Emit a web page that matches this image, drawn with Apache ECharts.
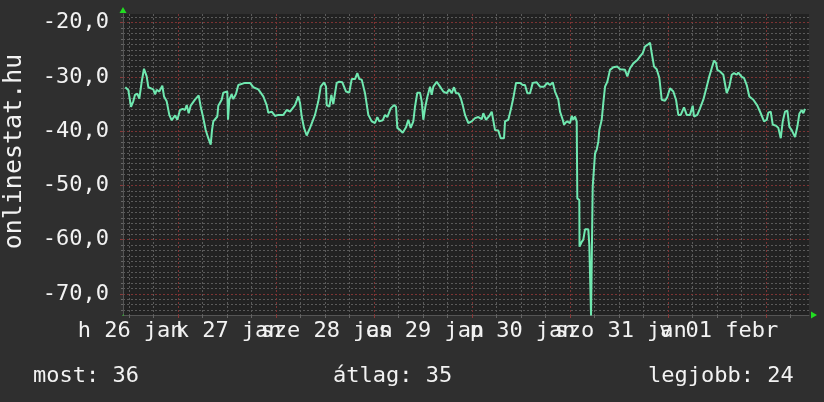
<!DOCTYPE html>
<html>
<head>
<meta charset="utf-8">
<script src="https://cdn.jsdelivr.net/npm/echarts@6/dist/echarts.min.js"></script>
<style>
html,body{margin:0;padding:0;background:#2f2f2f;}
#c{width:824px;height:402px;}
</style>
</head>
<body>
<div id="c"></div>
<script>
// time in hours since Monday 26 Jan 00:00
const hours = [11.06,11.80,12.46,13.02,13.44,14.0,14.49,15.08,15.64,16.06,16.30,16.70,17.92,18.34,18.75,19.39,20.13,20.54,21.20,21.84,22.43,23.24,23.80,24.46,25.12,25.68,26.10,26.59,27.08,28.13,29.04,29.53,30.17,30.75,31.39,31.98,32.30,32.62,33.60,33.84,34.67,35.06,36.04,36.22,36.53,37.12,37.51,38.18,38.74,40.38,41.60,42.41,43.64,44.86,45.69,46.09,46.92,47.73,48.53,49.76,50.59,51.40,52.62,53.43,53.85,54.27,54.83,55.49,56.30,57.52,58.33,58.92,59.73,60.22,60.39,61.03,61.52,62.0,62.84,63.47,64.21,65.12,65.92,66.51,67.32,67.88,68.37,68.96,69.77,70.58,71.41,72.22,72.78,73.27,74.10,74.67,75.23,76.06,76.87,77.36,77.68,78.34,79.0,79.81,80.37,80.96,81.60,82.01,82.58,83.24,83.65,84.05,84.54,85.03,85.69,86.10,86.50,87.33,88.14,88.94,89.78,90.41,91.0,91.56,92.05,92.62,93.21,93.70,94.26,95.07,95.90,96.71,97.52,98.35,98.74,99.40,100.21,100.80,101.19,101.61,102.41,103.0,103.81,104.06,104.86,105.45,106.09,106.75,107.73,108.39,108.95,109.52,110.18,110.84,111.82,112.63,113.61,114.42,115.08,115.74,116.30,117.11,117.53,118.19,118.51,119.17,119.98,120.39,120.78,121.20,121.61,121.76,122.25,122.30,122.84,123.23,123.65,124.45,124.70,125.04,125.12,125.44,125.53,125.85,126.10,126.51,126.91,127.15,127.74,128.13,128.55,129.11,129.77,130.58,131.56,132.22,133.44,134.01,134.67,135.48,136.46,137.12,137.78,138.34,138.91,139.57,139.98,140.55,141.21,141.85,142.43,143.24,143.80,144.46,145.27,145.93,146.50,147.09,147.89,148.55,149.36,150.02,150.34,151.15,151.81,152.62,153.45,154.09,154.68,155.24,155.73,156.05,156.71,157.52,158.35,158.99,159.58,160.14,160.80,161.19,162.03,162.59,163.25,163.89,164.87,165.85,166.68,167.49,168.15,168.54,169.13,169.62,170.43,170.99,171.58,172.07,172.63,173.20,173.69,174.27,175.08,175.64,176.13,176.72,177.11,177.53];
const values = [-31.9,-32.4,-35.5,-34.5,-33.3,-33.1,-34.0,-30.9,-28.5,-28.3,-29.9,-31.9,-32.3,-33.2,-32.4,-32.7,-31.6,-33.6,-34.5,-37.0,-38.0,-37.1,-37.9,-36.1,-35.9,-36.1,-35.2,-36.7,-35.3,-34.2,-33.4,-35.5,-37.6,-39.8,-41.3,-42.5,-39.8,-38.2,-37.3,-35.3,-34.2,-32.9,-32.7,-37.9,-34.2,-33.2,-34.1,-33.1,-31.5,-31.1,-31.1,-31.9,-32.3,-33.6,-35.2,-36.6,-36.4,-37.2,-37.0,-37.0,-36.1,-36.4,-35.2,-33.6,-34.8,-37.3,-39.4,-40.8,-39.4,-37.0,-34.5,-31.8,-31.0,-31.8,-35.2,-35.5,-33.3,-35.0,-31.1,-30.9,-31.0,-32.7,-32.9,-30.4,-30.4,-29.3,-30.4,-30.5,-33.0,-37.0,-38.2,-38.5,-37.4,-38.2,-38.0,-37.0,-37.4,-35.8,-35.2,-35.5,-39.4,-39.8,-40.3,-39.3,-37.9,-39.4,-38.2,-35.5,-32.9,-32.9,-34.5,-37.9,-35.5,-33.7,-31.8,-33.3,-31.8,-30.9,-31.8,-32.7,-33.0,-32.3,-33.0,-31.9,-33.0,-33.0,-33.9,-35.2,-37.0,-38.5,-38.2,-37.6,-37.4,-37.8,-36.7,-37.9,-37.2,-36.4,-36.1,-39.8,-39.9,-41.3,-41.3,-38.2,-37.9,-36.1,-33.9,-31.1,-31.1,-31.5,-31.5,-33.0,-33.0,-31.1,-31.0,-31.8,-31.8,-31.1,-31.5,-31.0,-32.7,-34.2,-36.4,-37.9,-38.8,-38.2,-38.5,-37.2,-37.9,-37.3,-38.2,-52.4,-52.7,-61.3,-60.4,-60.0,-58.1,-58.1,-61.0,-61.3,-74.0,-74.0,-50.2,-49.9,-44.1,-43.4,-41.9,-39.8,-37.9,-34.8,-31.8,-30.9,-28.7,-28.2,-28.1,-28.6,-28.7,-29.9,-28.4,-27.5,-26.9,-26.2,-25.6,-24.4,-24.1,-23.7,-25.6,-28.1,-28.6,-30.2,-34.2,-34.4,-33.7,-32.1,-32.7,-34.2,-37.0,-37.0,-35.6,-37.0,-37.0,-35.3,-37.3,-37.0,-35.8,-34.2,-31.8,-29.9,-28.4,-27.0,-27.4,-28.7,-29.0,-29.6,-33.0,-31.8,-29.6,-29.3,-29.6,-29.2,-30.0,-30.2,-31.5,-33.6,-34.2,-35.3,-36.7,-38.2,-37.9,-36.6,-36.4,-38.8,-39.0,-39.4,-41.3,-38.2,-36.4,-36.2,-39.2,-39.8,-41.1,-39.2,-36.8,-36.1,-36.7,-35.9];
const dayLabelHours = [12,36,60,84,108,132,156];
const dayLabels = ['h 26 jan','k 27 jan','sze 28 jan','cs 29 jan','p 30 jan','szo 31 jan','v 01 febr'];
const midnightHours = [24,48,72,96,120,144,168];
const majorY = [-70,-60,-50,-40,-30,-20];
const statLabels = ['most: 36','átlag: 35','legjobb: 24'];
const axisName = 'onlinestat.hu';

// axis extents (hours / value)
const X_MIN = 10.5, X_MAX = 178.5, Y_MIN = -73.9, Y_MAX = -18.4;
// fine category grids used only to place grid lines exactly
const xSteps = []; for (let k = X_MIN * 2; k <= X_MAX * 2; k++) xSteps.push(String(k / 2));
const ySteps = []; for (let k = Math.round(Y_MIN * 10); k <= Math.round(Y_MAX * 10); k++) ySteps.push(String(k / 10));
const minorX = []; for (let h = 12; h <= 174; h += 6) if (h % 24 !== 0) minorX.push(h);
const minorY = []; for (let v = -73; v <= -19; v++) if (v % 10 !== 0) minorY.push(v);

const FONT = 'DejaVu Sans Mono';
const TXT = '#f2f2f2';
const FS = 22;
const grayLine = {color:'#5a5a5a', width:1, type:[2,2]};
const redLine = {color:'#7c3333', width:1, type:[2,2]};
const green = '#22dd22';

const labelFmt = (v)=>{const i=dayLabelHours.indexOf(Math.round(v)); return i>=0?dayLabels[i]:'';};
const evenLabels = dayLabelHours.filter((h,i)=>i%2===0);
const oddLabels = dayLabelHours.filter((h,i)=>i%2===1);
const xLabelStyle = {show:true, margin:5, color:TXT, fontFamily:FONT, fontSize:FS, formatter:labelFmt,
                     hideOverlap:false, padding:[0,0,0,3]};

const gridCat = (data, test, style, z, pos) => ({
  type:'category', data:data, boundaryGap:false, z:z, position:pos,
  axisLine:{show:false}, axisTick:{show:false}, axisLabel:{show:false},
  splitLine:{show:true, interval:(i, val)=>test(parseFloat(val)), lineStyle:style}
});

const chart = echarts.init(document.getElementById('c'), null, {renderer:'canvas'});
chart.setOption({
  animation:false,
  backgroundColor:'#2f2f2f',
  textStyle:{fontFamily:FONT},
  grid:{left:123, top:14, width:686, height:301, show:true, backgroundColor:'#222222', borderWidth:0,
        containLabel:false, outerBoundsMode:'none'},
  title: statLabels.map((t,i)=>({
    text:t, padding:0,
    left:[33,333,648][i], top:365,
    textStyle:{fontFamily:FONT, fontSize:FS, fontWeight:'normal', color:TXT}
  })),
  xAxis:[
    {type:'value', min:X_MIN, max:X_MAX, z:3, position:'bottom',
     axisLine:{show:true, lineStyle:{color:'#555555', width:1}},
     axisTick:{show:true, customValues:minorX, length:3, lineStyle:{color:'#666666'}},
     axisLabel:{show:false}, splitLine:{show:false}},
    {type:'value', min:X_MIN, max:X_MAX, z:3, position:'bottom',
     axisLine:{show:true, symbol:['none','triangle'], symbolSize:[7,6], symbolOffset:[0,5], lineStyle:{color:green, type:[0,10000]}},
     axisTick:{show:true, customValues:midnightHours, length:3, lineStyle:{color:'#8a3a3a'}},
     axisLabel:Object.assign({customValues:evenLabels}, xLabelStyle),
     splitLine:{show:false}},
    {type:'value', min:X_MIN, max:X_MAX, z:3, position:'bottom',
     axisLine:{show:false}, axisTick:{show:false},
     axisLabel:Object.assign({customValues:oddLabels}, xLabelStyle),
     splitLine:{show:false}},
    gridCat(xSteps, h => h % 6 === 0 && h % 24 !== 0, grayLine, 0, 'bottom'),
    gridCat(xSteps, h => h % 24 === 0, redLine, 1, 'bottom')
  ],
  yAxis:[
    {type:'value', min:Y_MIN, max:Y_MAX, position:'left', z:3,
     axisLine:{show:true, lineStyle:{color:'#555555', width:1}},
     axisTick:{show:true, customValues:minorY, length:2, lineStyle:{color:'#666666'}},
     axisLabel:{show:false}, splitLine:{show:false}},
    {type:'value', min:Y_MIN, max:Y_MAX, position:'left', z:3,
     axisLine:{show:true, symbol:['none','triangle'], symbolSize:[7,6], symbolOffset:[0,4], lineStyle:{color:green, type:[0,10000]}},
     axisTick:{show:true, customValues:majorY, length:3, lineStyle:{color:'#8a3a3a'}},
     axisLabel:{show:true, customValues:majorY, margin:14, color:TXT, fontFamily:FONT, fontSize:FS,
       formatter:(v)=>v.toFixed(1).replace('.',',')},
     splitLine:{show:false},
     name:axisName, nameLocation:'middle', nameRotate:90, nameGap:96,
     nameTextStyle:{color:TXT, fontFamily:FONT, fontSize:25, padding:[0,0,0,26]}},
    gridCat(ySteps, v => Math.abs(Math.round(v) - v) < 1e-6 && Math.round(v) % 10 !== 0, grayLine, 0, 'left'),
    gridCat(ySteps, v => Math.abs(Math.round(v) - v) < 1e-6 && Math.round(v) % 10 === 0, redLine, 1, 'left')
  ],
  series:[{
    type:'line', xAxisIndex:1, yAxisIndex:1, z:5,
    data: hours.map((h,i)=>[h, values[i]]),
    showSymbol:false, symbol:'none',
    lineStyle:{color:'#70e8b0', width:2},
    clip:true
  }]
});
</script>
</body>
</html>
